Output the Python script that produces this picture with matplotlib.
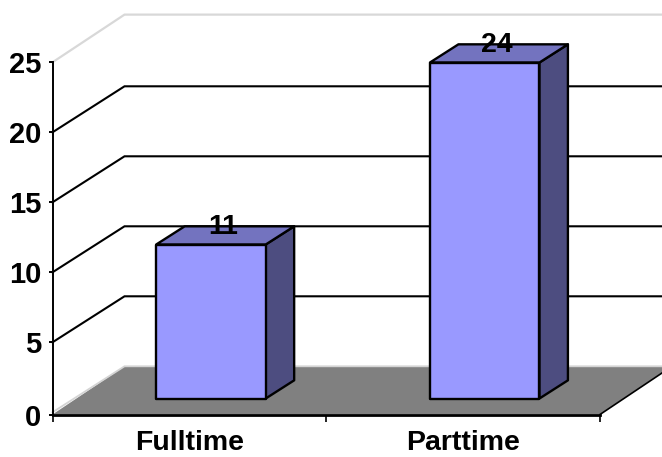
import matplotlib
matplotlib.use("Agg")
import matplotlib.pyplot as plt
from matplotlib.patches import Polygon

categories = ["Fulltime", "Parttime"]
values = [11, 24]
y_ticks = [0, 5, 10, 15, 20, 25]

W, H = 662, 457
LEFT, RIGHT, BOTTOM, TOP = 52.5, 600.0, 414.5, 62.3
PX_PER_UNIT = 14.0
# The heavy baseline sits slightly below the value zero.
AXIS_ZERO = y_ticks[-1] - (BOTTOM - TOP) / PX_PER_UNIT

plt.rcParams["font.family"] = ["Liberation Sans", "DejaVu Sans"]
fig = plt.figure(figsize=(W / 100, H / 100), dpi=100, facecolor="white")
ax = fig.add_axes([LEFT / W, (H - BOTTOM) / H, (RIGHT - LEFT) / W, (BOTTOM - TOP) / H])
ax.set_xlim(0, len(categories))
ax.set_ylim(AXIS_ZERO, y_ticks[-1])
ax.patch.set_visible(False)

# Oblique projection: depth 0 is the front plane, depth 1 the rear wall.
DEPTH_X = 72 / ((RIGHT - LEFT) / len(categories))
DEPTH_Y = 46 / PX_PER_UNIT


def proj(x, y, d):
    return x + d * DEPTH_X, y + d * DEPTH_Y


def face(points, color, edge="black", lw=1.7, z=3):
    ax.add_patch(Polygon([proj(*p) for p in points], closed=True, facecolor=color,
                         edgecolor=edge, linewidth=lw, joinstyle="round",
                         clip_on=False, zorder=z))


def wall_line(v, color, lw, z=1, lift=0.0):
    xs, ys = zip(*[proj(0, v, 0), proj(0, v + lift, 1), proj(len(categories), v + lift, 1)])
    ax.plot(xs, ys, color=color, lw=lw, clip_on=False, zorder=z, solid_joinstyle="miter")


# Floor
n = len(categories)
face([(0, AXIS_ZERO, 0), (n, AXIS_ZERO, 0), (n, 0, 1), (0, 0, 1)], "#808080", edge="none", lw=0, z=1)
xs, ys = zip(*[proj(n, AXIS_ZERO, 0), proj(n, 0, 1)])
ax.plot(xs, ys, color="black", lw=1.2, clip_on=False, zorder=1.5)
wall_line(0, "#d4d4d4", 1.3, z=1.2)

# Walls and gridlines
for tick in y_ticks[1:-1]:
    wall_line(tick, "black", 1.5)
wall_line(y_ticks[-1], "#d8d8d8", 1.6, lift=0.12)

# Bars
BAR_W = 0.4
D0, D1 = 0.30, 0.695
for i, v in enumerate(values):
    x0, x1 = i + 0.5 - BAR_W / 2, i + 0.5 + BAR_W / 2
    face([(x1, 0, D0), (x1, 0, D1), (x1, v, D1), (x1, v, D0)], "#4D4D80")
    face([(x0, v, D0), (x1, v, D0), (x1, v, D1), (x0, v, D1)], "#7373BF")
    face([(x0, 0, D0), (x1, 0, D0), (x1, v, D0), (x0, v, D0)], "#9999FF", z=3.2)
    ax.annotate(str(v), proj(i + 0.5, v, 0.47), xytext=(0, 6.8), textcoords="offset points",
                ha="center", va="center", fontsize=20.5, fontweight="bold",
                color="black", zorder=5, annotation_clip=False)

# Axes
for side in ("top", "right"):
    ax.spines[side].set_visible(False)
ax.spines["left"].set_linewidth(1.4)
ax.spines["bottom"].set_linewidth(2.0)
ax.spines["left"].set_zorder(4)
ax.spines["bottom"].set_zorder(4)
ax.set_yticks([AXIS_ZERO if t == 0 else t for t in y_ticks], labels=[str(t) for t in y_ticks])
ax.set_xticks(range(n + 1))
ax.set_xticklabels([])
ax.set_xticks([i + 0.5 for i in range(n)], labels=categories, minor=True)
ax.tick_params(axis="y", length=3, width=1.4, pad=5, labelsize=21)
ax.tick_params(axis="x", which="major", length=5, width=1.2)
ax.tick_params(axis="x", which="minor", length=0, pad=11, labelsize=20.5)
for lab in ax.get_yticklabels() + ax.get_xticklabels(minor=True):
    lab.set_fontweight("bold")

fig.savefig("out.png", dpi=100)
